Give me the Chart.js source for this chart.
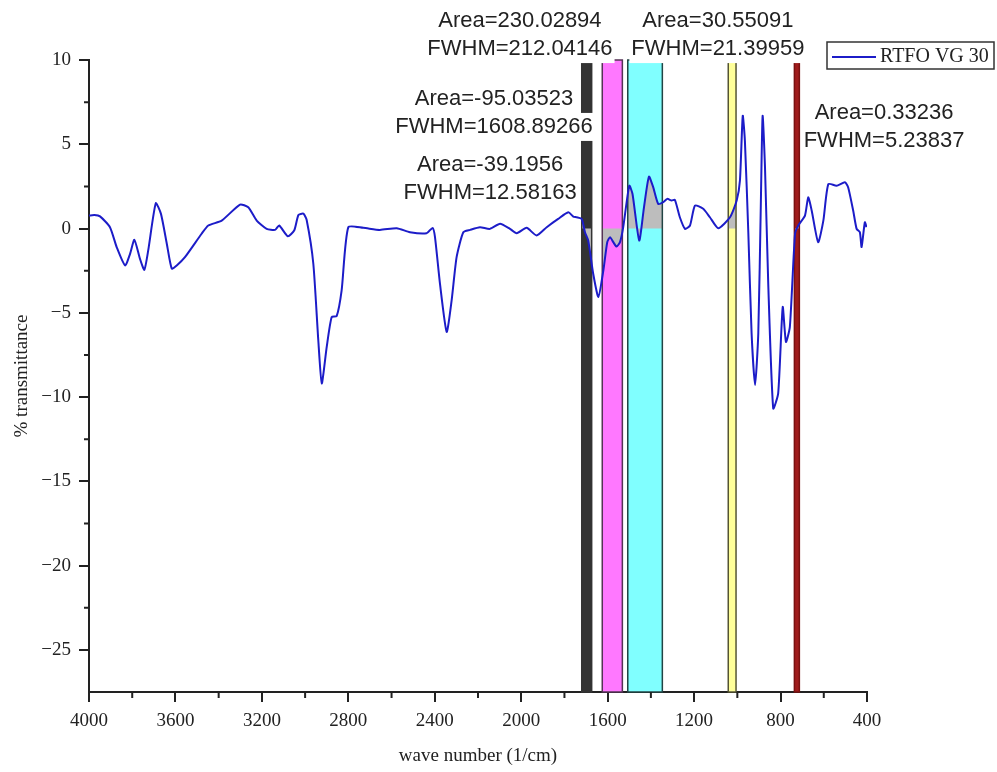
<!DOCTYPE html>
<html>
<head>
<meta charset="utf-8">
<title>RTFO VG 30 FTIR</title>
<script src="https://cdn.jsdelivr.net/npm/chart.js@4.4.1/dist/chart.umd.min.js"></script>
<style>
  html, body { margin: 0; padding: 0; background: #fff; }
</style>
</head>
<body>
<canvas id="ftirChart" width="997" height="772"></canvas>
<script>
// spectrum (wave number in 1/cm, % transmittance)
const waveNumbers = [
  4000, 3975, 3949, 3903, 3872, 3833, 3810, 3790, 3764, 3744, 3726, 3691, 3667, 3640, 3617, 3594, 3556,
  3479, 3448, 3386, 3301, 3263, 3224, 3178, 3139, 3120, 3080, 3050, 3031, 3008, 2993, 2962,
  2939, 2923, 2900, 2877, 2854, 2831, 2800, 2731, 2654, 2576, 2515, 2438, 2410, 2399, 2376,
  2345, 2322, 2299, 2268, 2237, 2191, 2145, 2098, 2052, 2021, 1975, 1929, 1882, 1829, 1782,
  1759, 1744, 1720, 1705, 1690, 1667, 1643, 1620, 1602, 1589, 1574, 1559, 1543, 1528, 1500,
  1485, 1454, 1432, 1409, 1389, 1366, 1343, 1324, 1304, 1289, 1266, 1242, 1219, 1196, 1158,
  1127, 1088, 1034, 1003, 988, 975, 965, 949, 934, 918, 903, 891, 883, 872, 857,
  834, 811, 790, 775, 757, 733, 718, 687, 672, 656, 626, 602, 579, 541, 502,
  487, 464, 448, 433, 425, 410, 402
];
const transmittance = [
  0.77, 0.8, 0.72, 0.08, -1.1, -2.19, -1.5, -0.67, -1.8, -2.45, -1.3, 1.5, 0.87, -0.9, -2.38, -2.19, -1.7,
  -0.31, 0.18, 0.47, 1.42, 1.26, 0.47, -0.02, -0.08, 0.18, -0.46, -0.1, 0.8, 0.88, 0.52, -2.09,
  -6.63, -9.19, -7.02, -5.25, -5.2, -3.67, 0.08, 0.04, -0.08, 0.02, -0.22, -0.28, 0.04, -0.51, -3.27,
  -6.13, -4.26, -1.7, -0.22, -0.08, 0.08, -0.02, 0.28, -0.02, -0.28, 0.04, -0.41, 0.08, 0.57, 0.96,
  0.71, 0.67, 0.57, -0.22, -0.71, -2.68, -4.06, -2.49, -0.81, -0.51, -0.81, -1.07, -0.81, 0.08, 2.54,
  2.05, -0.71, 1.26, 3.08, 2.44, 1.46, 1.56, 1.76, 1.66, 1.7, 0.67, -0.02, 0.18, 1.36, 1.17,
  0.67, 0.02, 0.67, 1.66, 2.84, 6.69, 5.2, -0.31, -6.23, -9.29, -6.23, 1.66, 6.69, 3.63, -3.27,
  -10.67, -9.78, -4.66, -6.73, -5.84, -0.31, 0.18, 0.77, 1.85, 1.07, -0.81, 0.47, 2.64, 2.54, 2.74,
  2.44, 1.07, -0.02, -0.22, -1.1, 0.37, 0.08
];

// integration bands (wave number limits)
const bandStart = [1720, 1625, 1507, 1042, 736];
const bandEnd = [1674, 1532, 1347, 1006, 713];
const bandColors = ['#333333', '#ff78ff', '#80ffff', '#ffff99', '#a01c1c'];
const bandEdges = ['#333333', '#553355', '#224444', '#555533', '#7a1010'];

const areaText = ['Area=-39.1956', 'Area=-95.03523', 'Area=230.02894', 'Area=30.55091', 'Area=0.33236'];
const fwhmText = ['FWHM=12.58163', 'FWHM=1608.89266', 'FWHM=212.04146', 'FWHM=21.39959', 'FWHM=5.23837'];
const labelWave = [2144, 2126, 2006, 1090, 321];
const labelLevel = [3.79, 7.69, 12.31, 12.31, 6.86];

const minorWaveTicks = [3800, 3400, 3000, 2600, 2200, 1800, 1400, 1000, 600];
const minorLevelTicks = [7.5, 2.5, -2.5, -7.5, -12.5, -17.5, -22.5];

const serif = '"Liberation Serif", "Times New Roman", serif';
const sans = '"Liberation Sans", Arial, sans-serif';
const ink = '#222222';
const lineBlue = '#1c1cc8';

const spectrum = waveNumbers.map((w, i) => ({ x: w, y: transmittance[i] }));

const bandPlugin = {
  id: 'bands',
  beforeDatasetsDraw(chart) {
    const { ctx, chartArea: a, scales: { x, y } } = chart;
    const zero = y.getPixelForValue(0);
    bandStart.forEach((s, i) => {
      const p1 = x.getPixelForValue(s), p2 = x.getPixelForValue(bandEnd[i]);
      const left = Math.min(p1, p2), w = Math.abs(p2 - p1);
      ctx.save();
      ctx.fillStyle = bandColors[i];
      ctx.fillRect(left, a.top, w, a.bottom - a.top);
      // grey integrated area between the curve and zero
      ctx.beginPath();
      ctx.rect(left, a.top, w, a.bottom - a.top);
      ctx.clip();
      ctx.beginPath();
      spectrum.forEach((pt, k) => {
        const px = x.getPixelForValue(pt.x), py = y.getPixelForValue(pt.y);
        if (k === 0) ctx.moveTo(px, py); else ctx.lineTo(px, py);
      });
      ctx.lineTo(x.getPixelForValue(spectrum[spectrum.length - 1].x), zero);
      ctx.lineTo(x.getPixelForValue(spectrum[0].x), zero);
      ctx.closePath();
      ctx.fillStyle = '#bdbdbd';
      ctx.fill();
      ctx.restore();
      ctx.save();
      ctx.strokeStyle = bandEdges[i];
      ctx.lineWidth = 1.5;
      ctx.strokeRect(left, a.top, w, a.bottom - a.top);
      ctx.restore();
    });
  }
};

const overlayPlugin = {
  id: 'overlay',
  afterDraw(chart) {
    const { ctx, chartArea: a, scales: { x, y } } = chart;
    ctx.save();
    // minor ticks
    ctx.strokeStyle = ink;
    ctx.lineWidth = 2;
    ctx.beginPath();
    minorWaveTicks.forEach(w => {
      const px = x.getPixelForValue(w);
      ctx.moveTo(px, a.bottom);
      ctx.lineTo(px, a.bottom + 6);
    });
    minorLevelTicks.forEach(v => {
      const py = y.getPixelForValue(v);
      ctx.moveTo(a.left, py);
      ctx.lineTo(a.left - 5, py);
    });
    ctx.stroke();

    // band labels
    ctx.font = '22px ' + sans;
    ctx.textAlign = 'center';
    ctx.textBaseline = 'middle';
    areaText.forEach((t, i) => {
      const cx = x.getPixelForValue(labelWave[i]);
      const cy = y.getPixelForValue(labelLevel[i]);
      [t, fwhmText[i]].forEach((line, j) => {
        const ly = cy + j * 28;
        const w = ctx.measureText(line).width;
        ctx.fillStyle = '#ffffff';
        ctx.fillRect(cx - w / 2 - 2, ly - 14, w + 4, 28);
        ctx.fillStyle = ink;
        ctx.fillText(line, cx, ly);
      });
    });

    // legend
    const lx = a.right - 40, ly = 42;
    ctx.fillStyle = '#ffffff';
    ctx.fillRect(lx, ly, 167, 27);
    ctx.strokeStyle = '#333333';
    ctx.lineWidth = 1.5;
    ctx.strokeRect(lx, ly, 167, 27);
    ctx.strokeStyle = lineBlue;
    ctx.lineWidth = 2;
    ctx.beginPath();
    ctx.moveTo(lx + 5, ly + 15);
    ctx.lineTo(lx + 49, ly + 15);
    ctx.stroke();
    ctx.fillStyle = ink;
    ctx.font = '20px ' + serif;
    ctx.textAlign = 'left';
    ctx.fillText(chart.data.datasets[0].label, lx + 53, ly + 15);
    ctx.restore();
  }
};

const ctx = document.getElementById('ftirChart').getContext('2d');
new Chart(ctx, {
  type: 'scatter',
  data: {
    datasets: [{
      label: 'RTFO VG 30',
      data: spectrum,
      showLine: true,
      borderColor: lineBlue,
      borderWidth: 2,
      pointRadius: 0,
      tension: 0.2,
      fill: false
    }]
  },
  options: {
    responsive: false,
    animation: false,
    layout: { padding: { top: 60, right: 130, left: 0, bottom: 0 } },
    plugins: { legend: { display: false }, tooltip: { enabled: false } },
    scales: {
      x: {
        type: 'linear',
        reverse: true,
        min: 400,
        max: 4000,
        afterFit: s => { s.height = 80; },
        ticks: {
          stepSize: 400,
          autoSkip: false,
          maxRotation: 0,
          color: ink,
          padding: 8,
          font: { family: serif, size: 19 },
          callback: v => String(v)
        },
        grid: { drawOnChartArea: false, tickLength: 10, color: ink, lineWidth: 2 },
        border: { color: ink, width: 2 },
        title: {
          display: true,
          text: 'wave number (1/cm)',
          color: ink,
          font: { family: serif, size: 19 },
          padding: { top: 0, bottom: 5 }
        }
      },
      y: {
        min: -27.5,
        max: 10,
        afterFit: s => { s.width = 89; },
        afterBuildTicks: s => { s.ticks = s.ticks.filter(t => t.value % 5 === 0); },
        ticks: {
          stepSize: 5,
          color: ink,
          padding: 8,
          font: { family: serif, size: 19 },
          callback: v => String(v).replace('-', '\u2212')
        },
        grid: { drawOnChartArea: false, tickLength: 10, color: ink, lineWidth: 2 },
        border: { color: ink, width: 2 },
        title: {
          display: true,
          text: '% transmittance',
          color: ink,
          font: { family: serif, size: 19 },
          padding: { top: 11, bottom: 0 }
        }
      }
    }
  },
  plugins: [bandPlugin, overlayPlugin]
});
</script>
</body>
</html>
